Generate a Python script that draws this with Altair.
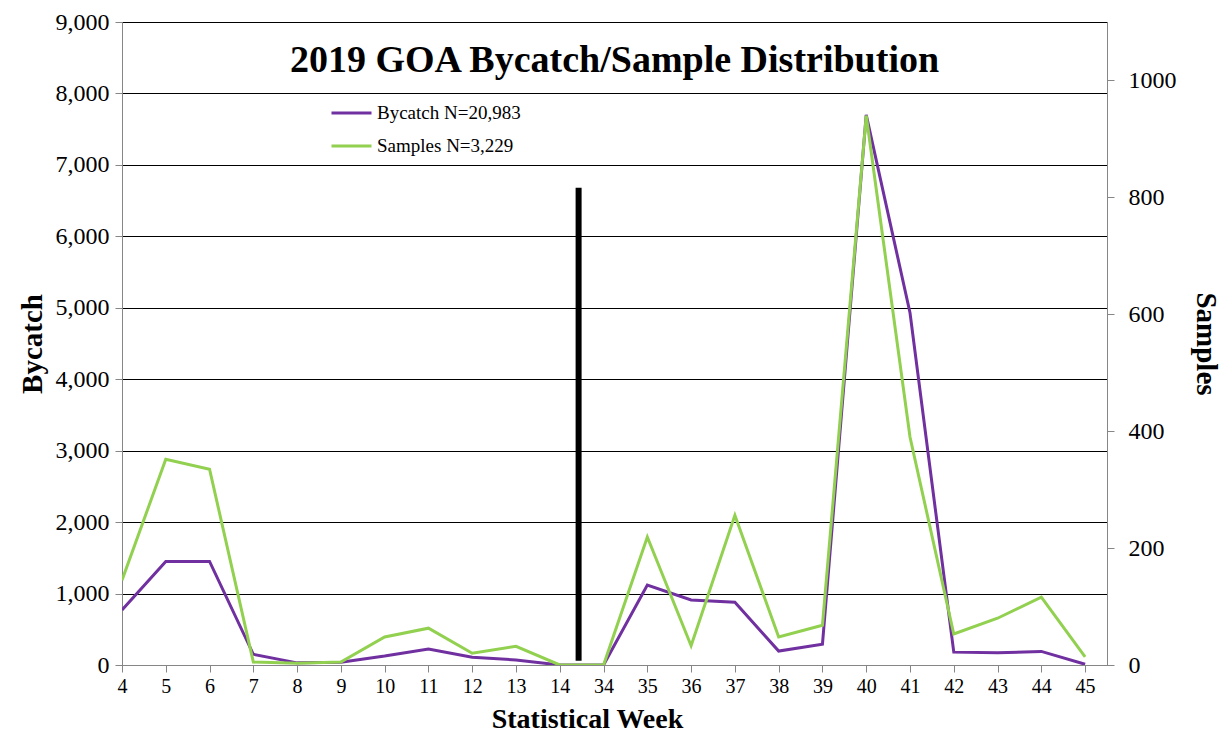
import altair as alt
import pandas as pd

weeks = ["4", "5", "6", "7", "8", "9", "10", "11", "12", "13", "14",
         "34", "35", "36", "37", "38", "39", "40", "41", "42", "43", "44", "45"]
bycatch = [770, 1450, 1450, 150, 30, 40, 125, 225, 110, 70, 0,
           0, 1120, 910, 880, 195, 290, 7700, 4930, 180, 170, 190, 10]
samples = [145, 352, 335, 5, 3, 5, 48, 63, 20, 32, 0,
           0, 219, 33, 256, 48, 68, 940, 390, 53, 80, 116, 14]
series_names = ["Bycatch N=20,983", "Samples N=3,229"]
series_colors = ["#7030A0", "#92D050"]
# season divider between week 14 and week 34
divider_pos = [10.43]
divider_top = [6680]
divider_base = [60]

FONT = "Liberation Serif"
GRAY = "#868686"

df = pd.DataFrame({
    "idx": list(range(len(weeks))),
    "week": weeks,
    "bycatch": bycatch,
    "samples": samples,
})
div_df = pd.DataFrame({"idx": divider_pos, "bycatch": divider_top, "base": divider_base})

label_expr = "[" + ",".join("'%s'" % w for w in weeks) + "][datum.value]"

x_enc = alt.X(
    "idx:Q",
    scale=alt.Scale(domain=[0, len(weeks) - 0.5], nice=False, zero=False),
    axis=alt.Axis(
        values=list(range(len(weeks))), labelExpr=label_expr, title="Statistical Week",
        grid=False, domainColor=GRAY, tickColor=GRAY, tickSize=7,
        labelFont=FONT, labelFontSize=20, labelColor="#000", labelPadding=4,
        titleFont=FONT, titleFontSize=28, titleFontWeight="bold", titleColor="#000",
        titlePadding=9, titleX=465, labelFlush=False,
    ),
)

left_axis = alt.Axis(
    values=list(range(0, 9001, 1000)), labelExpr="format(datum.value, ',')", title="Bycatch",
    grid=True, gridColor="#000", gridWidth=1, gridOpacity=1,
    domainColor=GRAY, tickColor=GRAY, tickSize=7,
    labelFont=FONT, labelFontSize=24, labelColor="#000", labelPadding=6,
    titleFont=FONT, titleFontSize=29, titleFontWeight="bold", titleColor="#000",
    titlePadding=8,
)
left_scale = alt.Scale(domain=[0, 9000], nice=False)

color_scale = alt.Scale(domain=series_names, range=series_colors)
legend = alt.Legend(
    title=None, orient="none", legendX=208, legendY=76, symbolType="stroke",
    symbolSize=1600, symbolStrokeWidth=3, clipHeight=30, rowPadding=3,
    labelFont=FONT, labelFontSize=19, labelColor="#000", labelOffset=4, padding=0,
)

base = alt.Chart(df)

byc_line = base.transform_calculate(series="'%s'" % series_names[0]).mark_line(
    strokeWidth=3, clip=True
).encode(
    x=x_enc,
    y=alt.Y("bycatch:Q", scale=left_scale, axis=left_axis),
    color=alt.Color("series:N", scale=color_scale, legend=legend),
)

divider = alt.Chart(div_df).mark_rule(color="#000", strokeWidth=6).encode(
    x=alt.X("idx:Q"),
    y=alt.Y("bycatch:Q", scale=left_scale, axis=left_axis),
    y2="base:Q",
)

left_layer = alt.layer(byc_line, divider)

samp_line = base.transform_calculate(series="'%s'" % series_names[1]).mark_line(
    strokeWidth=3, clip=True
).encode(
    x=x_enc,
    y=alt.Y(
        "samples:Q",
        scale=alt.Scale(domain=[0, 1100], nice=False),
        axis=alt.Axis(
            orient="right", values=list(range(0, 1001, 200)), labelExpr="format(datum.value, 'd')",
            title="Samples",
            grid=False, domainColor=GRAY, tickColor=GRAY, tickSize=7,
            labelFont=FONT, labelFontSize=24, labelColor="#000", labelPadding=14,
            titleFont=FONT, titleFontSize=29, titleFontWeight="bold", titleColor="#000",
            titlePadding=14,
        ),
    ),
    color=alt.Color("series:N", scale=color_scale, legend=legend),
)

chart = alt.layer(left_layer, samp_line).resolve_scale(y="independent").properties(
    width=985,
    height=643,
    autosize=alt.AutoSizeParams(type="none"),
    padding={"left": 114, "top": 14, "right": 116, "bottom": 70},
    title=alt.TitleParams(
        text="2019 GOA Bycatch/Sample Distribution", font=FONT, fontSize=38,
        fontWeight="bold", color="#000", anchor="middle", offset=-70,
    ),
).configure_view(stroke=None).configure(background="white")

chart.save("out.html", embed_options={"renderer": "svg", "actions": False})
